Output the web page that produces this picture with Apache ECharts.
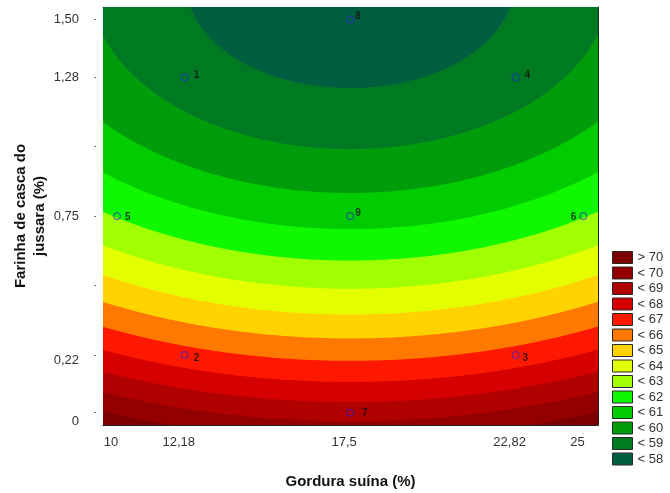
<!DOCTYPE html>
<html>
<head>
<meta charset="utf-8">
<script src="https://cdn.jsdelivr.net/npm/echarts@6/dist/echarts.min.js"></script>
<style>
html,body{margin:0;padding:0;background:#fff;}
#main{width:670px;height:493px;}
</style>
</head>
<body>
<div id="main"></div>
<script>
// faixas da legenda (de cima para baixo) e limites superiores de cada faixa
var levelNames = ['> 70', '< 70', '< 69', '< 68', '< 67', '< 66', '< 65', '< 64', '< 63', '< 62', '< 61', '< 60', '< 59', '< 58'];
var levelLimits = [Infinity, 70, 69, 68, 67, 66, 65, 64, 63, 62, 61, 60, 59, 58];
var levelColors = ['#7c0000', '#930000', '#b00000', '#d60000', '#ff1800', '#ff7800', '#ffd200', '#e3ff00',
                   '#a0ff00', '#10f800', '#00cc00', '#009c0c', '#007a22', '#005e40'];

// superficie de resposta: f = a + b*y + c*y^2 + d*(x - x0)^2
var surfY = [68.55, -13.72, 4.20];   // a, b, c
var surfX = [17.5, 0.0237];          // x0, d

// pontos do planejamento
var pointNames = ['1', '2', '3', '4', '5', '6', '7', '8', '9'];
var pointX = [12.18, 12.18, 22.82, 22.82, 10, 25, 17.5, 17.5, 17.5];
var pointY = [1.28, 0.22, 0.22, 1.28, 0.75, 0.75, 0, 1.5, 0.75];

// eixos
var xTicks = [10, 12.18, 14.84, 17.5, 20.16, 22.82, 25];
var xLabelValues = [10, 12.18, 17.5, 22.82, 25];
var xLabelTexts = ['10', '12,18', '17,5', '22,82', '25'];
var xTopTicks = [11.5, 13.5, 15.5, 17.5, 19.5, 21.5, 23.5];
var yTicks = [0, 0.22, 0.485, 0.75, 1.015, 1.28, 1.5];
var yLabelValues = [0, 0.22, 0.75, 1.28, 1.5];
var yLabelTexts = ['0', '0,22', '0,75', '1,28', '1,50'];
var yRightTicks = [0.15, 0.35, 0.55, 0.75, 0.95, 1.15, 1.35];

var xMin = 9.55, xMax = 25.47, yMin = -0.047, yMax = 1.548;
var font = 'Liberation Sans, Arial, sans-serif';

// y da fronteira f = lim numa dada coluna x (regiao f < lim fica acima)
function boundaryY(lim, x) {
	if (!isFinite(lim)) return yMin;
	var t = lim - surfX[1] * (x - surfX[0]) * (x - surfX[0]);
	var a = surfY[0], b = surfY[1], c = surfY[2];
	var disc = b * b - 4 * c * (a - t);
	if (disc < 0) return yMax;
	var y = (-b - Math.sqrt(disc)) / (2 * c);
	return Math.min(yMax, Math.max(yMin, y));
}

function renderBand(params, api) {
	var lim = levelLimits[params.seriesIndex];
	var pts = [];
	var n = 200;
	for (var i = 0; i <= n; i++) {
		var x = xMin + (xMax - xMin) * i / n;
		pts.push(api.coord([x, boundaryY(lim, x)]));
	}
	pts.push(api.coord([xMax, yMax]));
	pts.push(api.coord([xMin, yMax]));
	return {
		type: 'polygon',
		shape: { points: pts },
		style: { fill: api.visual('color'), stroke: null }
	};
}

function pick(values, texts) {
	return function (v) {
		for (var i = 0; i < values.length; i++) {
			if (Math.abs(values[i] - v) < 1e-6) return texts[i];
		}
		return '';
	};
}

var series = [];
for (var i = 0; i < levelNames.length; i++) {
	series.push({
		name: levelNames[i],
		type: 'custom',
		clip: true,
		silent: true,
		renderItem: renderBand,
		itemStyle: { color: levelColors[i] },
		data: [[surfX[0], yMax]],
		z: 1
	});
}

// posicao dos rotulos dos pontos
var labelPlace = {
	'1': { position: 'right', offset: [2, -2] },
	'2': { position: 'right', offset: [2, 3] },
	'3': { position: 'right', offset: [0, 3] },
	'4': { position: 'right', offset: [2, -2] },
	'5': { position: 'right', offset: [1, 1] },
	'6': { position: 'left', offset: [0, 1] },
	'7': { position: 'right', offset: [5, 1] },
	'8': { position: 'right', offset: [-2, -3] },
	'9': { position: 'right', offset: [-2, -3] }
};
var pts = [];
for (var j = 0; j < pointNames.length; j++) {
	pts.push({ value: [pointX[j], pointY[j]], name: pointNames[j], label: labelPlace[pointNames[j]] });
}
series.push({
	name: 'pontos',
	type: 'scatter',
	symbol: 'circle',
	symbolSize: 7,
	itemStyle: { color: 'rgba(0,0,0,0)', borderColor: '#2424d8', borderWidth: 1 },
	label: {
		show: true,
		formatter: '{b}',
		fontFamily: font,
		fontWeight: 'bold',
		fontSize: 10,
		color: '#111',
		distance: 3
	},
	data: pts,
	z: 5
});

// rotulos do eixo y: os de baixo ficam um pouco abaixo do tick no original
var yLabelFmt = pick(yLabelValues, yLabelTexts);
function yLabel(v) {
	var t = yLabelFmt(v);
	if (Math.abs(v) < 1e-6) return '{low|' + t + '}';
	if (Math.abs(v - 0.22) < 1e-6) return '{mid|' + t + '}';
	return t;
}

var myChart = echarts.init(document.getElementById('main'), null, { renderer: 'canvas' });
var option = {
	animation: false,
	backgroundColor: '#fff',
	grid: { left: 103, right: 72, top: 7, bottom: 68, outerBoundsMode: 'none', containLabel: false },
	legend: {
		data: levelNames,
		orient: 'vertical',
		left: 612,
		top: 251,
		padding: 0,
		icon: 'rect',
		itemWidth: 20,
		itemHeight: 12,
		itemGap: 2.5,
		selectedMode: false,
		itemStyle: { borderColor: '#2a2a2a', borderWidth: 1 },
		textStyle: { fontFamily: font, fontSize: 13, color: '#333', lineHeight: 12, padding: [0, 0, 0, 0] }
	},
	xAxis: [{
		type: 'value',
		min: xMin, max: xMax,
		position: 'bottom',
		name: 'Gordura suína (%)',
		nameLocation: 'middle',
		nameGap: 49,
		nameMoveOverlap: false,
		nameTextStyle: { fontFamily: font, fontSize: 15, fontWeight: 'bold', color: '#111' },
		axisLine: { show: true, onZero: false, lineStyle: { color: '#222', width: 1 } },
		axisTick: { show: true, inside: true, length: 4, customValues: xTicks, lineStyle: { color: '#222' } },
		axisLabel: {
			show: true, customValues: xLabelValues, formatter: pick(xLabelValues, xLabelTexts),
			fontFamily: font, fontSize: 13, color: '#333', margin: 11, padding: [0, 12, 0, 0]
		},
		splitLine: { show: false }
	}, {
		type: 'value',
		min: xMin, max: xMax,
		position: 'top',
		axisLine: { show: true, onZero: false, lineStyle: { color: '#555', width: 1 } },
		axisTick: { show: true, inside: true, length: 4, customValues: xTopTicks, lineStyle: { color: '#333' } },
		axisLabel: { show: false },
		splitLine: { show: false }
	}],
	yAxis: [{
		type: 'value',
		min: yMin, max: yMax,
		position: 'left',
		offset: 7,
		name: 'Farinha de casca do\njussara (%)',
		nameLocation: 'middle',
		nameGap: 47,
		nameMoveOverlap: false,
		nameTextStyle: { fontFamily: font, fontSize: 15, fontWeight: 'bold', color: '#111', lineHeight: 19 },
		axisLine: { show: false },
		axisTick: { show: true, length: 2, customValues: yTicks, lineStyle: { color: '#777' } },
		axisLabel: {
			show: true, customValues: yLabelValues, formatter: yLabel,
			fontFamily: font, fontSize: 13, color: '#333', margin: 17,
			rich: {
				low: { fontFamily: font, fontSize: 13, color: '#333', padding: [18, 0, 0, 0] },
				mid: { fontFamily: font, fontSize: 13, color: '#333', padding: [10, 0, 0, 0] }
			}
		},
		splitLine: { show: false }
	}, {
		type: 'value',
		min: yMin, max: yMax,
		position: 'right',
		axisLine: { show: true, onZero: false, lineStyle: { color: '#222', width: 1 } },
		axisTick: { show: true, inside: true, length: 4, customValues: yRightTicks, lineStyle: { color: '#222' } },
		axisLabel: { show: false },
		splitLine: { show: false }
	}, {
		type: 'value',
		min: yMin, max: yMax,
		position: 'left',
		axisLine: { show: true, onZero: false, lineStyle: { color: '#999', width: 1 } },
		axisTick: { show: false },
		axisLabel: { show: false },
		splitLine: { show: false }
	}],
	series: series
};
myChart.setOption(option);
</script>
</body>
</html>
